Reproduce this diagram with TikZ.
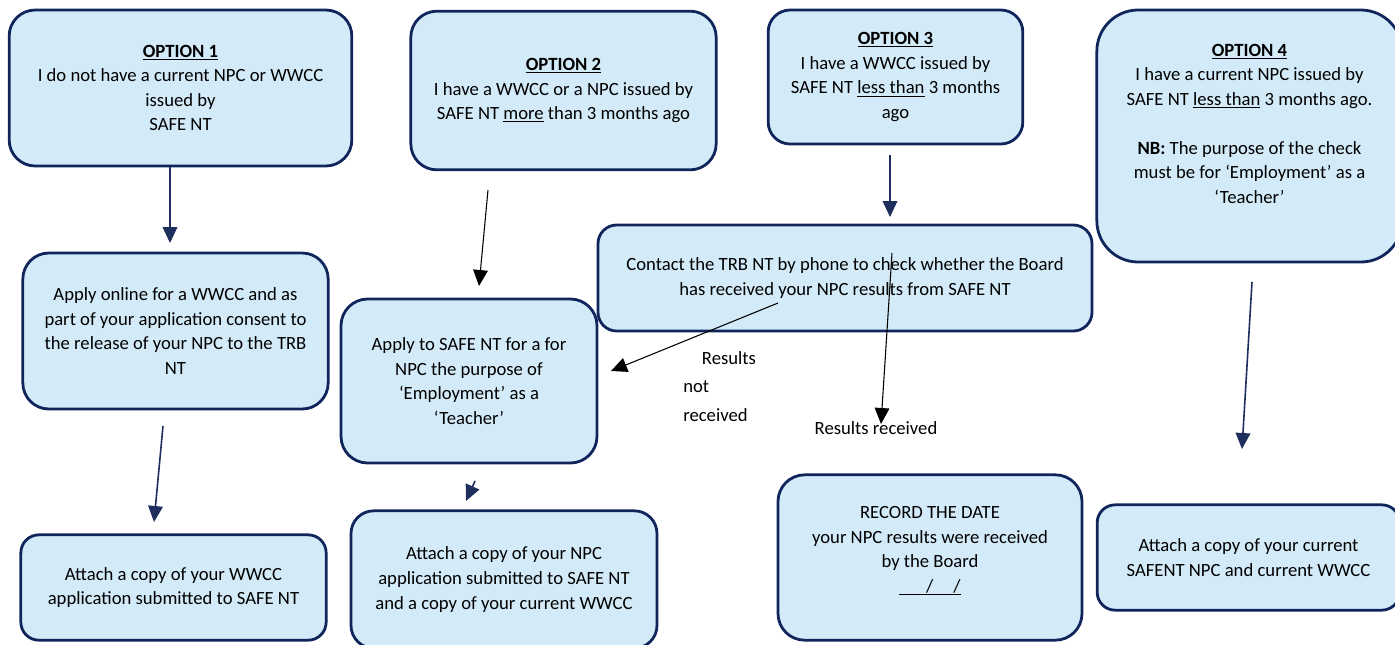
\documentclass[tikz,border=0pt]{standalone}
\usepackage{fontspec}
\setmainfont{Carlito}
\usetikzlibrary{arrows.meta}
\definecolor{boxfill}{RGB}{211,235,248}
\definecolor{boxline}{RGB}{16,37,92}
\definecolor{arrnavy}{RGB}{30,47,94}
\tikzset{
  box/.style={draw=boxline,fill=boxfill,line width=2.1pt,align=center,inner sep=0pt,
    font=\fontsize{14}{18.4}\selectfont},
  arr/.style={draw=arrnavy,line width=1.2pt,-{Triangle[length=12pt,width=11pt]}},
  blkarr/.style={draw=black,line width=0.8pt,-{Triangle[length=12pt,width=11pt]}},
  lbl/.style={inner sep=0pt,font=\fontsize{14}{21.5}\selectfont}
}
\begin{document}
\begin{tikzpicture}[x=0.75pt,y=-0.75pt]
    \useasboundingbox (0,0) rectangle (1395,644);
    % options
    \node[box,minimum width=257pt,minimum height=117pt,rounded corners=19.5pt] (opt1) at (180.5,88)
        {\underline{\textbf{OPTION 1}}\\I do not have a current NPC or WWCC\\issued by\\SAFE NT};
    \node[box,minimum width=229pt,minimum height=119pt,rounded corners=19.5pt] (opt2) at (563.5,90.5)
        {\underline{\textbf{OPTION 2}}\\I have a WWCC or a NPC issued by\\SAFE NT \underline{more} than 3 months ago};
    \node[box,minimum width=191pt,minimum height=100.5pt,rounded corners=16.5pt] (opt3) at (895.5,77)
        {\underline{\textbf{OPTION 3}}\\I have a WWCC issued by\\SAFE NT \underline{less than} 3 months\\ago};
    \node[box,minimum width=229pt,minimum height=189pt,rounded corners=31pt] (opt4) at (1249.5,136)
        {\underline{\textbf{OPTION 4}}\\I have a current NPC issued by\\SAFE NT \underline{less than} 3 months ago.\\[18.4pt]
         \textbf{NB:} The purpose of the check\\must be for `Employment' as a\\`Teacher'\\[0pt]\mbox{}};
    % middle row
    \node[box,minimum width=229pt,minimum height=117pt,rounded corners=19.5pt] (apponline) at (175.5,331)
        {Apply online for a WWCC and as\\part of your application consent to\\the release of your NPC to the TRB\\NT};
    \node[box,minimum width=192pt,minimum height=123pt,rounded corners=20pt] (appsafe) at (469,381)
        {Apply to SAFE NT for a for\\NPC the purpose of\\`Employment' as a\\`Teacher'};
    \node[box,minimum width=370.5pt,minimum height=79.5pt,rounded corners=14pt] (contact) at (845,278)
        {Contact the TRB NT by phone to check whether the Board\\has received your NPC results from SAFE NT};
    % bottom row
    \node[box,minimum width=229pt,minimum height=79pt,rounded corners=13.5pt] (attachw) at (173.5,587.5)
        {Attach a copy of your WWCC\\application submitted to SAFE NT};
    \node[box,minimum width=229.5pt,minimum height=103pt,rounded corners=17pt] (attachn) at (504,579.5)
        {Attach a copy of your NPC\\application submitted to SAFE NT\\and a copy of your current WWCC};
    \node[box,minimum width=228pt,minimum height=124pt,rounded corners=20pt] (record) at (930,557.5)
        {RECORD THE DATE\\your NPC results were received\\by the Board\\\underline{\hspace{20pt}/\hspace{15pt}/}\\[-6pt]\mbox{}};
    \node[box,minimum width=227pt,minimum height=79pt,rounded corners=13.5pt] (attachc) at (1248.5,557.5)
        {Attach a copy of your current\\SAFENT NPC and current WWCC};
    % labels
    \node[lbl,anchor=north west,align=left] (notrec) at (683,351) {\hspace{14pt}Results\\not\\received};
    \node[lbl] (rec) at (876,428) {Results received};
    % arrow ends
    \coordinate (a1s) at (170,167);   \coordinate (a1e) at (170,243);
    \coordinate (a2s) at (163,426);   \coordinate (a2e) at (154,522);
    \coordinate (b1s) at (488,190);   \coordinate (b1e) at (479,286);
    \coordinate (b2s) at (475,481);   \coordinate (b2e) at (466,501);
    \coordinate (c1s) at (890,155);   \coordinate (c1e) at (890,217);
    \coordinate (c2s) at (778,303);   \coordinate (c2e) at (611,371);
    \coordinate (c3s) at (892,253);   \coordinate (c3e) at (881,424);
    \coordinate (d1s) at (1252,282);  \coordinate (d1e) at (1242,449);
    \draw[arr] (a1s) -- (a1e);
    \draw[arr] (a2s) -- (a2e);
    \draw[blkarr] (b1s) -- (b1e);
    \draw[arr] (b2s) -- (b2e);
    \draw[arr] (c1s) -- (c1e);
    \draw[blkarr] (c2s) -- (c2e);
    \draw[blkarr] (c3s) -- (c3e);
    \draw[arr] (d1s) -- (d1e);
\end{tikzpicture}
\end{document}
